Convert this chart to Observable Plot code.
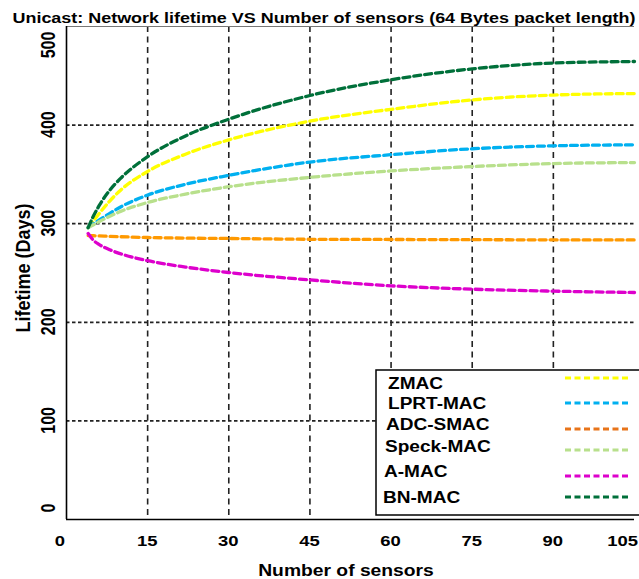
<!DOCTYPE html>
<html>
<head>
<meta charset="utf-8">
<script src="https://cdn.jsdelivr.net/npm/d3@7"></script>
<script src="https://cdn.jsdelivr.net/npm/@observablehq/plot@0.6"></script>
<style>
  html, body { margin: 0; padding: 0; background: white; }
  svg { display: block; }
</style>
</head>
<body>
<div id="chart"></div>
<script>
const titleText = "Unicast: Network lifetime VS Number of sensors (64 Bytes packet length)";
const xLabel = "Number of sensors";
const yLabel = "Lifetime (Days)";
const xTicks = [0, 15, 30, 45, 60, 75, 90, 105];
const yTicks = [0, 100, 200, 300, 400, 500];

const sensors = [4, 5, 6, 8, 10, 15, 22, 30, 45, 60, 75, 90, 105];
const zmac    = [296, 303, 310, 323, 334, 353, 370.5, 385, 404, 416, 425.5, 430.5, 432];
const lprtmac = [296, 300, 303.5, 310.5, 317, 329, 340, 349, 362.5, 370, 376, 379, 380];
const adcsmac = [288, 287.8, 287.6, 287.2, 286.8, 286, 285.4, 285, 284.2, 284, 283.8, 283.6, 283.5];
const speckmac= [296, 299, 302, 307.5, 312.5, 321.5, 330, 337.5, 347, 353.5, 358, 361, 362];
const amac    = [290, 283, 279, 273.5, 269.5, 262.5, 256, 250.5, 243, 237, 233.6, 231.6, 230.2];
const bnmac   = [296, 308, 318, 334, 346, 368, 389, 406, 430, 446, 457, 463, 464.5];

const seriesNames  = ["ZMAC", "LPRT-MAC", "ADC-SMAC", "Speck-MAC", "A-MAC", "BN-MAC"];
const seriesValues = [zmac, lprtmac, adcsmac, speckmac, amac, bnmac];
const seriesColors = ["#FFFF00", "#00B0F0", "#FF9900", "#B8E08C", "#DD00CC", "#00703A"];
const legendColors = ["#FFFF00", "#00B0F0", "#E8741A", "#B8E08C", "#DD00CC", "#00703A"];

const rows = seriesNames.flatMap((name, i) =>
  sensors.map((s, j) => ({name, sensors: s, lifetime: seriesValues[i][j]})));

const font = "'Liberation Sans', Arial, sans-serif";
const stretch = 1.19; // glyphs in the reference are horizontally widened

const chart = Plot.plot({
  width: 639,
  height: 579,
  marginLeft: 66,
  marginRight: 5,
  marginTop: 26,
  marginBottom: 60,
  x: {domain: [0, 105], axis: null},
  y: {domain: [0, 500], axis: null},
  color: {domain: seriesNames, range: seriesColors},
  style: {fontFamily: font, background: "white", color: "black"},
  marks: [
    Plot.ruleX(xTicks.filter(d => d > 0 && d < 105), {stroke: "#222", strokeWidth: 1.6, strokeDasharray: "6,4.5"}),
    Plot.ruleY(yTicks.filter(d => d > 0 && d < 500), {stroke: "#222", strokeWidth: 1.7, strokeDasharray: "3.5,2.5"}),
    Plot.ruleY([500], {stroke: "#777", strokeWidth: 1}),
    Plot.ruleX([0], {stroke: "black", strokeWidth: 1.6}),
    Plot.ruleY([0], {stroke: "black", strokeWidth: 1.6}),
    Plot.line(rows, {x: "sensors", y: "lifetime", z: "name", stroke: "name", curve: "monotone-x",
      strokeWidth: 3.3, strokeDasharray: "7,4"})
  ]
});

const svg = d3.select(chart);
const xs = chart.scale("x");
const ys = chart.scale("y");

function addText(sel, {x, y, rotate = 0, size, anchor = "start", sx = stretch, sy = 1, text, length}) {
  const t = sel.append("text")
    .attr("transform", `translate(${x},${y}) rotate(${rotate}) scale(${sx},${sy})`)
    .attr("text-anchor", anchor)
    .attr("font-family", font)
    .attr("font-weight", "bold")
    .attr("font-size", size)
    .attr("fill", "black")
    .text(text);
  if (length) t.attr("textLength", length).attr("lengthAdjust", "spacingAndGlyphs");
  return t;
}

// x tick labels
xTicks.forEach(v => {
  const px = xs.apply(v);
  if (v === 0) addText(svg, {x: px - 6, y: 546, size: 15.5, anchor: "middle", text: String(v)});
  else if (v === 105) addText(svg, {x: 638, y: 546, size: 15.5, anchor: "end", text: String(v)});
  else addText(svg, {x: px, y: 546, size: 15.5, anchor: "middle", text: String(v)});
});

// y tick labels (rotated, glyphs widened)
yTicks.forEach(v => {
  let py = ys.apply(v);
  if (v === 500) py += 19;
  if (v === 0) py -= 11;
  addText(svg, {x: 55, y: py, rotate: -90, size: 16, anchor: "middle", sx: 1, sy: 1.3, text: String(v)});
});

// Title
addText(svg, {x: 324, y: 23, size: 14.5, anchor: "middle", sx: 1, text: titleText, length: 623});

// Axis titles
addText(svg, {x: 346, y: 576, size: 16.2, anchor: "middle", text: xLabel});
addText(svg, {x: 30, y: 268, rotate: -90, size: 18, anchor: "middle", sx: 1, sy: 1.1, text: yLabel});

// Legend
const lg = svg.append("g");
lg.append("rect")
  .attr("x", 376).attr("y", 370).attr("width", 275).attr("height", 145)
  .attr("fill", "white").attr("stroke", "black").attr("stroke-width", 1.5);
const legendTextX = [388, 388, 386, 385, 384, 383];
const legendTextY = [388.5, 409, 430, 451.5, 476.5, 502.5];
const legendLineY = [378, 403, 429, 450, 476, 497];
seriesNames.forEach((name, i) => {
  addText(lg, {x: legendTextX[i], y: legendTextY[i], size: 16, anchor: "start", text: name});
  lg.append("line")
    .attr("x1", 565).attr("x2", 629)
    .attr("y1", legendLineY[i]).attr("y2", legendLineY[i])
    .attr("stroke", legendColors[i]).attr("stroke-width", 2.8)
    .attr("stroke-dasharray", "6,3.5");
});

document.getElementById("chart").appendChild(chart);
</script>
</body>
</html>
